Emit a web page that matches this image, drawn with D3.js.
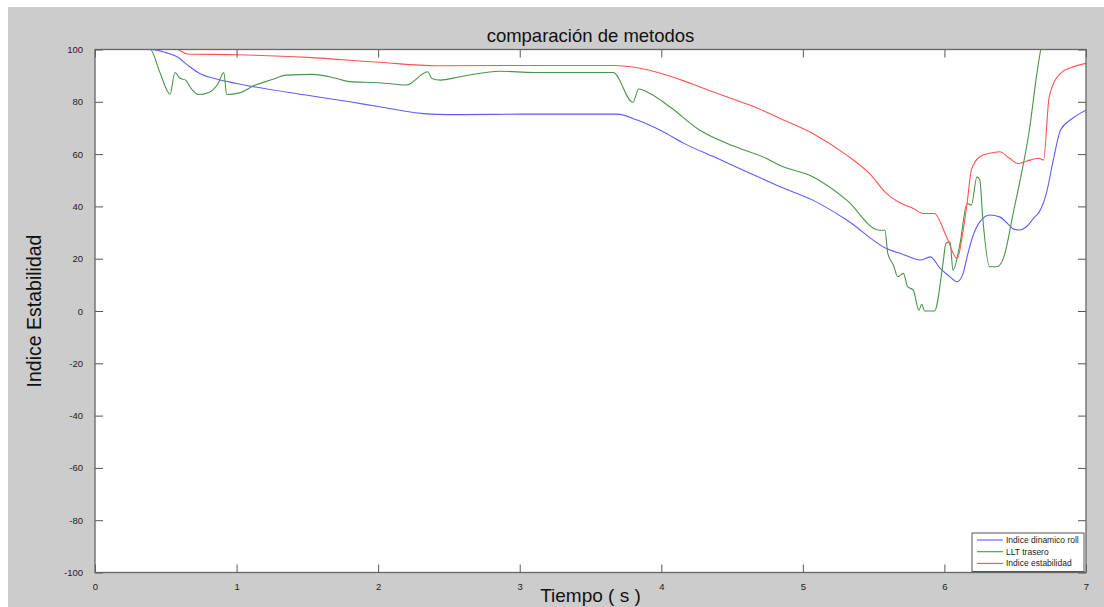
<!DOCTYPE html>
<html><head><meta charset="utf-8">
<script src="https://cdn.jsdelivr.net/npm/d3@7"></script>
<style>body{margin:0;background:#fff;} svg{display:block;font-family:"Liberation Sans",Arial,sans-serif;}</style>
</head><body>
<svg id="c" width="1104" height="607"></svg>
<script>
// Data
const xTicks = [0,1,2,3,4,5,6,7];
const yTicks = [-100,-80,-60,-40,-20,0,20,40,60,80,100];
const seriesNames = ["Indice dinamico roll","LLT trasero","Indice estabilidad"];
const seriesColors = ["#5c5cff","#479647","#ff5252"];

const rollT = [0,0.40,0.50,0.58,0.66,0.74,0.85,1.0,1.5,1.80,2.01,2.37,2.6,3.0,3.69,3.83,4.0,4.16,4.4,4.63,4.84,5.07,5.31,5.59,5.70,5.83,5.90,5.97,6.03,6.09,6.13,6.16,6.20,6.25,6.32,6.39,6.45,6.49,6.53,6.58,6.63,6.67,6.72,6.77,6.82,6.9,7.0];
const rollV = [100,100,98.8,97.2,93.8,90.8,88.8,87.0,82.5,80.0,78.1,75.3,75.1,75.3,75.3,73.0,68.9,64.1,58.3,52.6,47.5,42.4,34.8,23.9,21.8,19.5,20.7,16.3,13.5,11.2,14.0,20.7,28.5,34.1,36.7,36.0,33.2,31.3,31.0,32.2,35.5,37.9,45.0,58.0,69.2,73.5,76.8];

const lltT = [0,0.39,0.46,0.53,0.565,0.60,0.64,0.68,0.73,0.80,0.87,0.91,0.93,1.02,1.12,1.25,1.35,1.54,1.70,1.80,2.01,2.20,2.35,2.38,2.44,2.58,2.86,3.10,3.66,3.80,3.84,3.92,4.06,4.27,4.51,4.74,4.84,5.07,5.31,5.54,5.58,5.60,5.64,5.67,5.71,5.74,5.78,5.82,5.84,5.86,5.93,5.99,6.01,6.04,6.06,6.11,6.16,6.19,6.23,6.25,6.27,6.32,6.37,6.42,6.49,6.53,6.60,6.65,6.68,6.72];
const lltV = [100,100,91.0,82.9,91.2,89.0,88.3,85.0,82.8,83.5,87.0,91.2,82.8,83.4,86.1,88.5,90.2,90.5,89.0,87.7,87.3,86.4,91.5,88.9,88.3,89.6,91.7,91.2,91.2,79.8,84.9,83.2,78.1,69.2,63.1,58.4,55.6,51.3,42.4,30.9,30.9,22.0,17.5,13.1,14.4,9.3,8.0,0.3,2.6,0,0,18.2,25.8,26.5,15.6,25.8,41.1,40.5,51.3,50.1,36.0,16.9,16.9,20.7,38.6,48.8,69.2,89.6,100,110];

const estT = [0,0.40,0.58,0.65,1.0,1.50,2.01,2.41,3.0,3.66,3.85,4.0,4.16,4.32,4.50,4.67,4.84,5.07,5.31,5.47,5.59,5.70,5.78,5.85,5.93,6.01,6.09,6.13,6.16,6.19,6.25,6.32,6.39,6.46,6.52,6.58,6.67,6.70,6.74,6.82,6.9,7.0];
const estV = [100,100,100,98.3,98.0,97.0,95.1,93.8,93.9,93.9,92.8,90.8,88.0,84.7,81.2,77.8,73.6,67.9,59.6,52.6,45.0,41.0,39.2,37.3,37.3,29.0,20.1,30.0,41.1,53.9,59.0,60.3,60.9,58.4,56.4,57.3,58.4,57.7,81.9,90.9,93.2,94.7];

const series = [
  {name:seriesNames[0], color:seriesColors[0], t:rollT, v:rollV},
  {name:seriesNames[1], color:seriesColors[1], t:lltT, v:lltV},
  {name:seriesNames[2], color:seriesColors[2], t:estT, v:estV}
];

const svg = d3.select("#c");
svg.append("rect").attr("x",8).attr("y",7).attr("width",1096).attr("height",600).attr("fill","#cccccc");

const L=95, R=1086, T=49.5, B=572.5;
const x = d3.scaleLinear().domain([0,7]).range([L,R]);
const y = d3.scaleLinear().domain([-100,100]).range([B,T]);

svg.append("rect").attr("x",L).attr("y",T).attr("width",R-L).attr("height",B-T).attr("fill","#fff");

svg.append("clipPath").attr("id","clip").append("rect").attr("x",L).attr("y",T).attr("width",R-L).attr("height",B-T);

const line = d3.line().curve(d3.curveMonotoneX).x(d=>x(d[0])).y(d=>y(d[1]));
const g = svg.append("g").attr("clip-path","url(#clip)");
series.forEach(s=>{
  g.append("path").datum(s.t.map((t,i)=>[t,s.v[i]]))
    .attr("d",line).attr("fill","none").attr("stroke",s.color).attr("stroke-width",1.1);
});

// Axes (MATLAB style: inward ticks on all four sides)
const tk = 8;
const axC = "#555";
const fmt = d => String(d);
const ax = svg.append("g");
ax.append("g").attr("transform",`translate(0,${B})`)
  .call(d3.axisBottom(x).tickValues(xTicks).tickSize(-tk).tickPadding(tk+3).tickFormat(fmt))
  .call(a=>{a.select(".domain").remove();});
ax.append("g").attr("transform",`translate(0,${T})`)
  .call(d3.axisTop(x).tickValues(xTicks).tickSize(-tk).tickFormat(""))
  .call(a=>{a.select(".domain").remove();});
ax.append("g").attr("transform",`translate(${L},0)`)
  .call(d3.axisLeft(y).tickValues(yTicks).tickSize(-tk).tickPadding(tk+4).tickFormat(fmt))
  .call(a=>{a.select(".domain").remove();});
ax.append("g").attr("transform",`translate(${R},0)`)
  .call(d3.axisRight(y).tickValues(yTicks).tickSize(-tk).tickFormat(""))
  .call(a=>{a.select(".domain").remove();});
ax.selectAll("line").attr("stroke",axC);
ax.selectAll("text").attr("fill","#222").style("font-size","9.5px").style("font-family","'Liberation Sans',Arial,sans-serif");

svg.append("rect").attr("x",L).attr("y",T).attr("width",R-L).attr("height",B-T)
  .attr("fill","none").attr("stroke","#666").attr("stroke-width",1.3);

// Titles
svg.append("text").attr("x",(L+R)/2).attr("y",42).attr("text-anchor","middle")
  .style("font-size","18.5px").attr("fill","#111").text("comparación de metodos");
svg.append("text").attr("x",(L+R)/2).attr("y",602).attr("text-anchor","middle")
  .style("font-size","19px").attr("fill","#111").text("Tiempo ( s )");
svg.append("text").attr("transform",`translate(41,${(T+B)/2}) rotate(-90)`).attr("text-anchor","middle")
  .style("font-size","19.5px").attr("fill","#111").text("Indice Estabilidad");

// Legend
const lg = svg.append("g");
lg.append("rect").attr("x",972).attr("y",533).attr("width",112).attr("height",38.5)
  .attr("fill","#fff").attr("stroke","#555").attr("stroke-width",1);
series.forEach((s,i)=>{
  const yy = 540 + i*11.7;
  lg.append("line").attr("x1",977).attr("x2",1003).attr("y1",yy).attr("y2",yy).attr("stroke",s.color).attr("stroke-width",1.1);
  lg.append("text").attr("x",1006).attr("y",yy+3).style("font-size","8.5px").attr("fill","#222").text(s.name);
});
</script>
</body></html>
